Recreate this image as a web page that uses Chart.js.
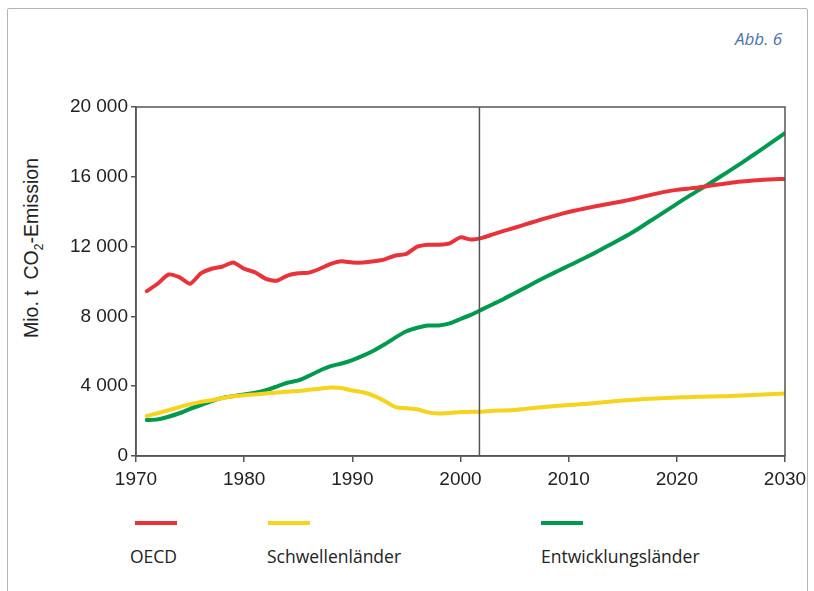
<!DOCTYPE html>
<html>
<head>
<meta charset="utf-8">
<script src="https://cdn.jsdelivr.net/npm/chart.js@4"></script>
<style>
  body { margin: 0; background: #fff; width: 814px; height: 591px; overflow: hidden; position: relative; font-family: "Open Sans", sans-serif; }
  .frame { position: absolute; left: 7px; top: 8px; width: 799px; height: 640px; border: 1.5px solid #b4b4b4; border-radius: 2px; }
  .abb { position: absolute; left: 735px; top: 27px; font-style: italic; font-size: 17px; color: #4d72a8; }
  .ytitle { position: absolute; left: 33px; top: 248px; transform: translate(-50%, -50%) rotate(-90deg); white-space: nowrap; font-family: "Liberation Sans", sans-serif; font-size: 19.5px; color: #222; }
  .ytitle sub { font-size: 12px; vertical-align: -5px; }
  .chartbox { position: absolute; left: 0; top: 0; width: 814px; height: 500px; }
  .leg-line { position: absolute; top: 521px; width: 42px; height: 4px; }
  .leg-text { position: absolute; top: 544px; font-size: 17.5px; color: #222; }
</style>
</head>
<body>
<div class="frame"></div>
<div class="abb">Abb. 6</div>
<div class="ytitle">Mio. t&nbsp; CO<sub>2</sub>-Emission</div>
<div class="chartbox"><canvas id="chart"></canvas></div>

<div class="leg-line" style="left:135px;background:#e8333a"></div>
<div class="leg-line" style="left:268px;background:#f6d31c"></div>
<div class="leg-line" style="left:541px;background:#009a4e"></div>
<div class="leg-text" style="left:130px">OECD</div>
<div class="leg-text" style="left:267px">Schwellenländer</div>
<div class="leg-text" style="left:541px">Entwicklungsländer</div>

<script>
const years = [];
for (let y = 1971; y <= 2030; y++) years.push(y);

const oecd = [
  9450, 9870, 10400, 10250, 9870, 10470, 10730, 10860, 11090, 10730,
  10530, 10150, 10040, 10340, 10470, 10510, 10730, 11010, 11160, 11090,
  11090, 11160, 11270, 11490, 11580, 12000, 12110, 12110, 12190, 12530,
  12400, 12500, 12700, 12900, 13080, 13270, 13460, 13650, 13820, 13980,
  14120, 14250, 14370, 14480, 14600, 14730, 14880, 15020, 15150, 15250,
  15320, 15390, 15480, 15570, 15660, 15730, 15790, 15830, 15860, 15880
];
const schwellen = [
  2290, 2450, 2620, 2800, 2970, 3100, 3200, 3320, 3430, 3480,
  3530, 3580, 3640, 3680, 3730, 3790, 3860, 3930, 3900, 3750,
  3650, 3450, 3150, 2800, 2740, 2680, 2500, 2440, 2460, 2520,
  2530, 2540, 2600, 2610, 2630, 2700, 2760, 2820, 2880, 2920,
  2960, 3010, 3060, 3120, 3180, 3230, 3260, 3290, 3320, 3350,
  3370, 3390, 3410, 3420, 3440, 3470, 3500, 3530, 3560, 3580
];
const entwicklung = [
  2060, 2100, 2250, 2450, 2700, 2920, 3150, 3330, 3430, 3530,
  3620, 3770, 3980, 4200, 4330, 4600, 4900, 5150, 5300, 5500,
  5750, 6050, 6400, 6800, 7150, 7350, 7480, 7480, 7600, 7850,
  8100, 8400, 8700, 9000, 9330, 9650, 9980, 10300, 10600, 10900,
  11200, 11500, 11830, 12170, 12500, 12850, 13250, 13650, 14050, 14450,
  14850, 15220, 15600, 16000, 16400, 16800, 17220, 17640, 18070, 18500
];
const yTicks = [0, 4000, 8000, 12000, 16000, 20000];
const xTicks = [1970, 1980, 1990, 2000, 2010, 2020, 2030];
const markYear = 2001.75;

function toPoints(vals) {
  return vals.map((v, i) => ({ x: years[i], y: v }));
}

const boxPlugin = {
  id: 'box',
  afterDatasetsDraw(chart) {
    const { ctx, chartArea: a, scales } = chart;
    ctx.save();
    ctx.strokeStyle = '#555';
    ctx.lineWidth = 1.5;
    ctx.strokeRect(a.left, a.top, a.right - a.left, a.bottom - a.top);
    const x = scales.x.getPixelForValue(markYear);
    ctx.beginPath();
    ctx.moveTo(x, a.top);
    ctx.lineTo(x, a.bottom);
    ctx.stroke();
    ctx.restore();
  }
};

const tickFont = { family: '"Liberation Sans", Arial, sans-serif', size: 19 };

new Chart(document.getElementById('chart'), {
  type: 'line',
  data: {
    datasets: [
      { label: 'OECD', data: toPoints(oecd), borderColor: '#e8333a', borderWidth: 4 },
      { label: 'Schwellenländer', data: toPoints(schwellen), borderColor: '#f6d31c', borderWidth: 4 },
      { label: 'Entwicklungsländer', data: toPoints(entwicklung), borderColor: '#009a4e', borderWidth: 4 }
    ]
  },
  options: {
    responsive: true,
    maintainAspectRatio: false,
    animation: false,
    layout: { padding: { left: 0, top: 107, right: 29, bottom: 0 } },
    elements: { point: { radius: 0 }, line: { tension: 0.2, borderCapStyle: 'round', borderJoinStyle: 'round' } },
    plugins: { legend: { display: false }, tooltip: { enabled: false } },
    scales: {
      x: {
        type: 'linear',
        min: 1970,
        max: 2030,
        afterFit: (s) => { s.height = 44; },
        afterBuildTicks: (s) => { s.ticks = xTicks.map(v => ({ value: v })); },
        ticks: { color: '#222', font: tickFont, padding: 6, maxRotation: 0, callback: (v) => String(v) },
        grid: { drawOnChartArea: false, drawTicks: true, tickLength: 6, color: '#555', lineWidth: 1.5 },
        border: { display: true, color: '#555', width: 1.5 }
      },
      y: {
        min: 0,
        max: 20000,
        afterFit: (s) => { s.width = 136; },
        afterBuildTicks: (s) => { s.ticks = yTicks.map(v => ({ value: v })); },
        ticks: { color: '#222', font: tickFont, padding: 3, callback: (v) => String(v).replace(/\B(?=(\d{3})+(?!\d))/g, ' ') },
        grid: { drawOnChartArea: false, drawTicks: true, tickLength: 5, color: '#555', lineWidth: 1.5 },
        border: { display: true, color: '#555', width: 1.5 }
      }
    }
  },
  plugins: [boxPlugin]
});
</script>
</body>
</html>
